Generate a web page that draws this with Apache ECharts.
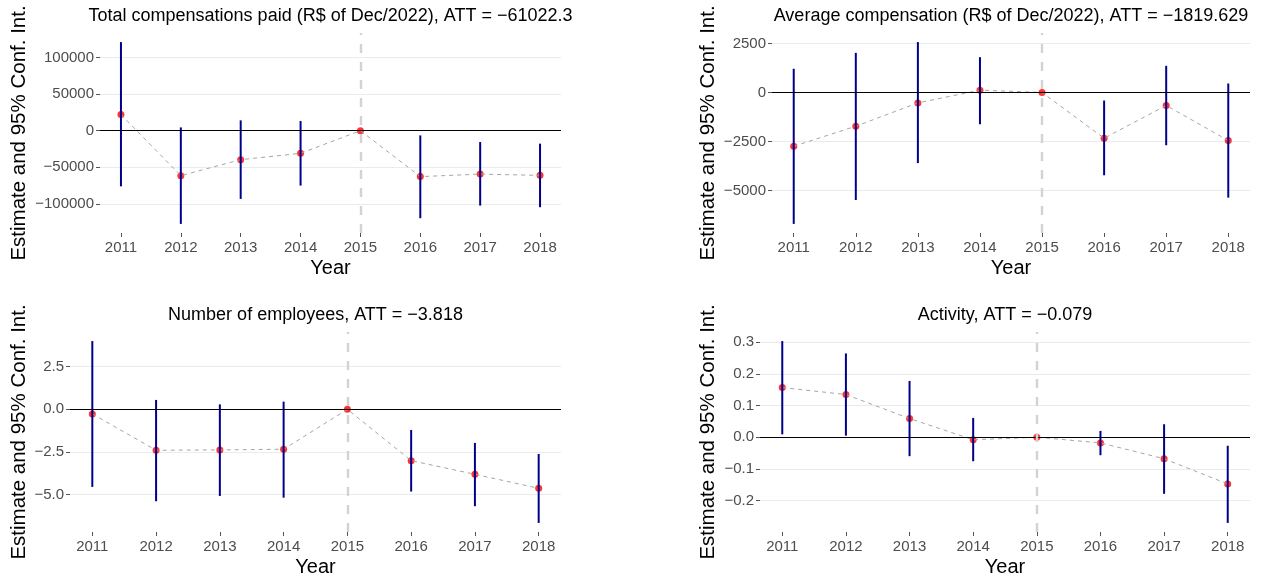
<!DOCTYPE html>
<html>
<head>
<meta charset="utf-8">
<script src="https://cdn.jsdelivr.net/npm/echarts@6/dist/echarts.min.js"></script>
<style>
  html, body { margin: 0; padding: 0; background: #ffffff; }
  #chart { width: 1261px; height: 578px; }
</style>
</head>
<body>
<div id="chart"></div>
<script>
// Event-study estimates with 95% confidence intervals (reference year 2015)
const years = [2011, 2012, 2013, 2014, 2015, 2016, 2017, 2018];

// Total compensations paid (R$ of Dec/2022)
const totalEst = [22000, -61400, -39600, -30900, 0, -62700, -59300, -61000];
const totalLo  = [-76000, -127300, -93200, -75000, 0, -119500, -102300, -104500];
const totalHi  = [121000, 4500, 14100, 13200, 0, -6400, -15500, -17700];
const totalTicks = [-100000, -50000, 0, 50000, 100000];

// Average compensation (R$ of Dec/2022)
const avgEst = [-2740, -1720, -530, 120, 0, -2330, -660, -2450];
const avgLo  = [-6700, -5480, -3600, -1620, 0, -4220, -2690, -5360];
const avgHi  = [1210, 2020, 2570, 1800, 0, -410, 1360, 460];
const avgTicks = [-5000, -2500, 0, 2500];

// Number of employees
const empEst = [-0.27, -2.40, -2.38, -2.34, 0, -3.01, -3.81, -4.63];
const empLo  = [-4.55, -5.39, -5.08, -5.18, 0, -4.82, -5.68, -6.66];
const empHi  = [4.00, 0.55, 0.29, 0.45, 0, -1.21, -1.97, -2.62];
const empTicks = [-5, -2.5, 0, 2.5];

// Activity
const actEst = [0.157, 0.135, 0.059, -0.008, 0, -0.018, -0.068, -0.148];
const actLo  = [0.009, 0.005, -0.060, -0.076, 0, -0.057, -0.179, -0.271];
const actHi  = [0.304, 0.265, 0.178, 0.061, 0, 0.020, 0.041, -0.027];
const actTicks = [-0.2, -0.1, 0, 0.1, 0.2, 0.3];

const titles = [
  'Total compensations paid (R$ of Dec/2022), ATT = \u221261022.3',
  'Average compensation (R$ of Dec/2022), ATT = \u22121819.629',
  'Number of employees, ATT = \u22123.818',
  'Activity, ATT = \u22120.079'
];
const treatYear = 2015;

const FONT = '"Liberation Sans", Arial, Helvetica, sans-serif';

const panels = [
  { title: titles[0], est: totalEst, lo: totalLo, hi: totalHi, ticks: totalTicks, dec: 0,
    grid: { left: 100, top: 33, width: 461, height: 200 }, nameGap: 70 },
  { title: titles[1], est: avgEst, lo: avgLo, hi: avgHi, ticks: avgTicks, dec: 0,
    grid: { left: 772, top: 33, width: 478, height: 200 }, nameGap: 53 },
  { title: titles[2], est: empEst, lo: empLo, hi: empHi, ticks: empTicks, dec: 1,
    grid: { left: 70, top: 332, width: 491, height: 200 }, nameGap: 40 },
  { title: titles[3], est: actEst, lo: actLo, hi: actHi, ticks: actTicks, dec: 1,
    grid: { left: 760, top: 332, width: 490, height: 200 }, nameGap: 41 }
];

// Continuous scales padded by 5% of the data range on each side
function expandRange(lo, hi) {
  const pad = (hi - lo) * 0.05;
  return [lo - pad, hi + pad];
}
function fmt(v, dec) {
  const s = Math.abs(v).toFixed(dec);
  return (v < -1e-12 ? '\u2212' : '') + s;
}

const xRange = expandRange(Math.min(...years), Math.max(...years));

const option = {
  animation: false,
  backgroundColor: '#ffffff',
  title: [],
  grid: [],
  xAxis: [],
  yAxis: [],
  series: []
};

panels.forEach((p, i) => {
  const yLo = Math.min(0, ...p.lo, ...p.est);
  const yHi = Math.max(0, ...p.hi, ...p.est);
  const yRange = expandRange(yLo, yHi);

  option.title.push({
    text: p.title,
    left: p.grid.left + p.grid.width / 2,
    top: p.grid.top - 27,
    textAlign: 'center',
    padding: 0,
    textStyle: { fontFamily: FONT, fontSize: 18, fontWeight: 'normal', color: '#000000', lineHeight: 21 }
  });

  option.grid.push(Object.assign({ containLabel: false }, p.grid));

  option.xAxis.push({
    type: 'value',
    gridIndex: i,
    min: xRange[0],
    max: xRange[1],
    name: 'Year',
    nameLocation: 'middle',
    nameGap: 25,
    nameTextStyle: { fontFamily: FONT, fontSize: 20, color: '#000000' },
    axisLine: { show: false, onZero: false },
    axisTick: { show: true, length: 4, customValues: years, lineStyle: { color: '#555555', width: 1 } },
    axisLabel: {
      customValues: years,
      margin: 7,
      fontFamily: FONT, fontSize: 15, color: '#4D4D4D',
      formatter: v => String(Math.round(v))
    },
    splitLine: { show: false }
  });

  option.yAxis.push({
    type: 'value',
    gridIndex: i,
    min: yRange[0],
    max: yRange[1],
    name: 'Estimate and 95% Conf. Int.',
    nameLocation: 'middle',
    nameGap: p.nameGap,
    nameRotate: 90,
    nameTextStyle: { fontFamily: FONT, fontSize: 20.5, color: '#000000' },
    axisLine: { show: false, onZero: false },
    axisTick: { show: true, length: 4, customValues: p.ticks, lineStyle: { color: '#555555', width: 1 } },
    axisLabel: {
      customValues: p.ticks,
      margin: 6,
      fontFamily: FONT, fontSize: 15, color: '#4D4D4D',
      formatter: v => fmt(v, p.dec)
    },
    splitLine: { show: true, lineStyle: { color: '#EBEBEB', width: 1.2 } }
  });

  // Point estimates
  option.series.push({
    type: 'scatter',
    xAxisIndex: i, yAxisIndex: i,
    data: years.map((y, k) => [y, p.est[k]]),
    symbol: 'circle',
    symbolSize: 7,
    itemStyle: { color: '#FF0000' },
    z: 1,
    silent: true
  });

  // Dashed path linking the point estimates, with reference lines
  option.series.push({
    type: 'line',
    xAxisIndex: i, yAxisIndex: i,
    data: years.map((y, k) => [y, p.est[k]]),
    showSymbol: false,
    symbol: 'none',
    lineStyle: { color: '#A6A6A6', width: 1, type: [4, 4] },
    z: 2,
    silent: true,
    markLine: {
      silent: true,
      symbol: 'none',
      label: { show: false },
      data: [
        { yAxis: 0, lineStyle: { color: '#000000', width: 1.1, type: 'solid' } },
        { xAxis: treatYear, lineStyle: { color: '#D3D3D3', width: 2.4, type: [9, 9] } }
      ]
    }
  });

  // 95% confidence intervals
  option.series.push({
    type: 'custom',
    xAxisIndex: i, yAxisIndex: i,
    data: years.map((y, k) => [y, p.lo[k], p.hi[k]]),
    encode: { x: 0, y: [1, 2] },
    z: 3,
    silent: true,
    renderItem: (params, api) => {
      const a = api.coord([api.value(0), api.value(1)]);
      const b = api.coord([api.value(0), api.value(2)]);
      return {
        type: 'line',
        shape: { x1: a[0], y1: a[1], x2: b[0], y2: b[1] },
        style: { stroke: '#00008B', lineWidth: 2 }
      };
    }
  });
});

const chart = echarts.init(document.getElementById('chart'), null, { renderer: 'canvas' });
chart.setOption(option);
</script>
</body>
</html>
